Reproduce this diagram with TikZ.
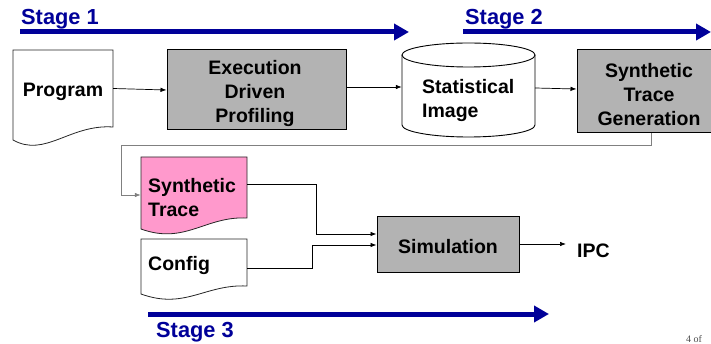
\documentclass[tikz,border=0pt]{standalone}
\usepackage{fontspec}
\setmainfont{Liberation Sans}
\newfontfamily\pagefont{Liberation Serif}
\usetikzlibrary{arrows.meta}
\definecolor{stageblue}{HTML}{000099}
\definecolor{boxgray}{HTML}{B3B3B3}
\definecolor{tracepink}{HTML}{FF99CC}
\definecolor{fbgray}{HTML}{808080}
\begin{document}
\begin{tikzpicture}[x=1pt,y=-1pt,
  lbl/.style={font=\fontsize{19.5}{24}\selectfont\bfseries, inner sep=0pt},
  stagelbl/.style={font=\fontsize{21.8}{26}\selectfont\bfseries, text=stageblue, inner sep=0pt, anchor=base west},
  procbox/.style={draw, line width=1pt, fill=boxgray, inner sep=0pt},
  docarea/.style={draw=none, inner sep=0pt},
  docline/.style={draw=black!85, line width=0.8pt},
  conn/.style={-{Latex[length=6pt,width=4.5pt]}, line width=0.7pt},
  stagearrow/.style={draw=stageblue, line width=5pt, -{Triangle[length=15pt,width=16pt]}}
]
\useasboundingbox (0,0) rectangle (711,344);

% stage arrows and labels
\coordinate (s1a) at (20,32);
\coordinate (s1b) at (409,32);
\coordinate (s2a) at (463,32);
\coordinate (s2b) at (711,32);
\coordinate (s3a) at (148,314);
\coordinate (s3b) at (549,314);
\draw[stagearrow] (s1a) -- (s1b);
\draw[stagearrow] (s2a) -- (s2b);
\draw[stagearrow] (s3a) -- (s3b);
\node[stagelbl] (st1) at (21,25) {Stage 1};
\node[stagelbl] (st2) at (465,25) {Stage 2};
\node[stagelbl] (st3) at (156,337) {Stage 3};

% Program document
\draw[docline, fill=white] (13,50) -- (113,50) -- (113,127)
  .. controls (70,124) and (45,158) .. (13,140) -- cycle;
\node[docarea, minimum width=100pt, minimum height=77pt] (prog) at (63,88.5) {};
\node[lbl] (proglbl) at (63,92) {Program};

% Execution Driven Profiling
\node[procbox, minimum width=179pt, minimum height=80pt] (edp) at (256.5,90) {};
\node[lbl, align=center] (edplbl) at (255,94) {Execution\\Driven\\Profiling};

% Statistical Image cylinder
\draw[line width=0.9pt, fill=white] (402,55) -- (402,125) arc[start angle=180, end angle=0, x radius=66.5, y radius=12] -- (535,55);
\draw[line width=0.9pt, fill=white] (468.5,55) ellipse [x radius=66.5, y radius=12];
\node[docarea, minimum width=133pt, minimum height=82pt] (img) at (468.5,88) {};
\node[lbl, align=left, anchor=west] (imglbl) at (422,101) {Statistical\\Image};

% Synthetic Trace Generation
\node[procbox, minimum width=135pt, minimum height=83pt] (stg) at (644.5,91.5) {};
\node[lbl, align=center] (stglbl) at (649,95) {Synthetic\\Trace\\Generation};

% Synthetic Trace document
\draw[docline, fill=tracepink] (141,157) -- (247,157) -- (247,218)
  .. controls (205,216) and (185,245) .. (141,229) -- cycle;
\node[docarea, minimum width=106pt, minimum height=61pt] (trace) at (194,187.5) {};
\node[lbl, align=left, anchor=west] (tracelbl) at (148,198) {Synthetic\\Trace};

% Config document
\draw[docline, fill=white] (141,239) -- (247,239) -- (247,286)
  .. controls (205,284) and (185,310) .. (141,294) -- cycle;
\node[docarea, minimum width=106pt, minimum height=47pt] (config) at (194,262.5) {};
\node[lbl, anchor=west] (configlbl) at (148,266) {Config};

% Simulation
\node[procbox, minimum width=142pt, minimum height=56pt] (sim) at (448,245) {};
\node[lbl] (simlbl) at (448,246.5) {Simulation};

% IPC
\node[lbl, anchor=west] (ipc) at (577,251) {IPC};
\coordinate (ipcin) at (566,244);

% connectors
\draw[conn] (prog.east) -- (edp.west);
\draw[conn] ([yshift=3pt]edp.east) -- ([yshift=1pt]img.west);
\draw[conn] (img.east) -- ([yshift=2.5pt]stg.west);
\coordinate (fbc) at (121,145);
\draw[conn, draw=fbgray] ([xshift=6.5pt]stg.south) |- (fbc) |- ([yshift=-7.5pt]trace.west);
\coordinate (tr1) at (316,184);
\draw[conn] ([yshift=3.5pt]trace.east) -| (tr1) |- ([yshift=11pt]sim.west);
\coordinate (cf1) at (312,268);
\draw[conn] ([yshift=-5.5pt]config.east) -| (cf1) |- (sim.west);
\draw[conn] ([yshift=1pt]sim.east) -- (ipcin);

% page number
\node[anchor=base west, inner sep=0pt, font=\pagefont\fontsize{10}{12}\selectfont, text=black!70] (pg) at (686,342) {4 of};
\end{tikzpicture}
\end{document}
